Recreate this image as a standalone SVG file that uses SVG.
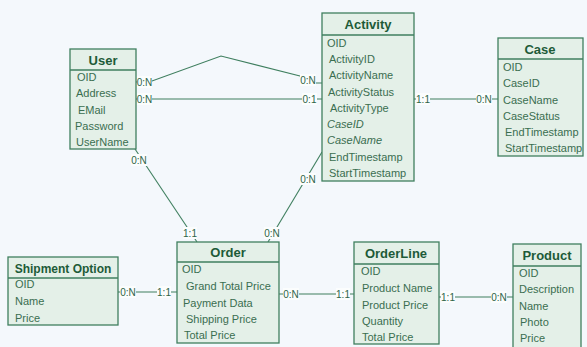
<svg xmlns="http://www.w3.org/2000/svg" width="587" height="347" viewBox="0 0 587 347">
<style>
.bg{fill:#f4f8fc}
.box{fill:#e4f0e8;stroke:#3f7f5f;stroke-width:1.3}
.sep{stroke:#3f7f5f;stroke-width:1.3}
.hdr{font-family:"Liberation Sans",Arial,sans-serif;font-size:13px;font-weight:bold;fill:#1d5b38;text-anchor:middle}
.att{font-family:"Liberation Sans",Arial,sans-serif;font-size:11px;fill:#3a6e50}
.it{font-style:italic}
.con{fill:none;stroke:#3f7f5f;stroke-width:1.1}
.lb{fill:#fbfdfd}
.lt{font-family:"Liberation Sans",Arial,sans-serif;font-size:10px;fill:#2e6448;text-anchor:middle}
</style>
<rect class="bg" x="0" y="0" width="587" height="347"/>
<g id="connectors">
<polyline class="con" points="136,82 152,81 221,56 300,76 316,83 322,83"/>
<line class="con" x1="136" y1="99" x2="322" y2="99"/>
<line class="con" x1="414" y1="99" x2="498" y2="99"/>
<line class="con" x1="135" y1="149" x2="197" y2="242"/>
<line class="con" x1="322" y1="152" x2="268" y2="242"/>
<line class="con" x1="118" y1="292" x2="177" y2="292"/>
<line class="con" x1="279" y1="294" x2="354" y2="294"/>
<line class="con" x1="439" y1="297" x2="513" y2="297"/>
<g id="labels">
<rect class="lb" x="137" y="76" width="15" height="12"/><text class="lt" x="144.5" y="86">0:N</text>
<rect class="lb" x="137" y="93" width="15" height="12"/><text class="lt" x="144.5" y="103">0:N</text>
<rect class="lb" x="300" y="74" width="16" height="12"/><text class="lt" x="308" y="84">0:N</text>
<rect class="lb" x="302" y="93" width="15" height="12"/><text class="lt" x="309.5" y="103">0:1</text>
<rect class="lb" x="416" y="93" width="14" height="12"/><text class="lt" x="423" y="103">1:1</text>
<rect class="lb" x="476" y="93" width="16" height="12"/><text class="lt" x="484" y="103">0:N</text>
<rect class="lb" x="131" y="154" width="16" height="12"/><text class="lt" x="139" y="164">0:N</text>
<rect class="lb" x="183" y="227" width="14" height="12"/><text class="lt" x="190" y="237">1:1</text>
<rect class="lb" x="300" y="173" width="16" height="12"/><text class="lt" x="308" y="183">0:N</text>
<rect class="lb" x="264" y="227" width="16" height="12"/><text class="lt" x="272" y="237">0:N</text>
<rect class="lb" x="120" y="286" width="16" height="12"/><text class="lt" x="128" y="296">0:N</text>
<rect class="lb" x="157" y="286" width="14" height="12"/><text class="lt" x="164" y="296">1:1</text>
<rect class="lb" x="283" y="288" width="16" height="12"/><text class="lt" x="291" y="298">0:N</text>
<rect class="lb" x="336" y="288" width="14" height="12"/><text class="lt" x="343" y="298">1:1</text>
<rect class="lb" x="441" y="291" width="14" height="12"/><text class="lt" x="448" y="301">1:1</text>
<rect class="lb" x="491" y="291" width="16" height="12"/><text class="lt" x="499" y="301">0:N</text>
</g>
</g>
<g id="user">
<rect class="box" x="70" y="49" width="66" height="100"/>
<line class="sep" x1="70" y1="70" x2="136" y2="70"/>
<text class="hdr" x="103" y="65">User</text>
<text class="att" x="77" y="81">OID</text>
<text class="att" x="76" y="97">Address</text>
<text class="att" x="78" y="114">EMail</text>
<text class="att" x="75" y="130">Password</text>
<text class="att" x="76" y="146">UserName</text>
</g>
<g id="activity">
<rect class="box" x="322" y="13" width="92" height="168"/>
<line class="sep" x1="322" y1="35" x2="414" y2="35"/>
<text class="hdr" x="368" y="29">Activity</text>
<text class="att" x="327" y="47">OID</text>
<text class="att" x="329" y="63">ActivityID</text>
<text class="att" x="329" y="79">ActivityName</text>
<text class="att" x="328" y="96">ActivityStatus</text>
<text class="att" x="330" y="112">ActivityType</text>
<text class="att it" x="327" y="128">CaseID</text>
<text class="att it" x="327" y="144">CaseName</text>
<text class="att" x="329" y="161">EndTimestamp</text>
<text class="att" x="329" y="177">StartTimestamp</text>
</g>
<g id="case">
<rect class="box" x="498" y="38" width="85" height="118"/>
<line class="sep" x1="498" y1="59" x2="583" y2="59"/>
<text class="hdr" x="540" y="54">Case</text>
<text class="att" x="503" y="71">OID</text>
<text class="att" x="503" y="87">CaseID</text>
<text class="att" x="503" y="104">CaseName</text>
<text class="att" x="503" y="120">CaseStatus</text>
<text class="att" x="505" y="136">EndTimestamp</text>
<text class="att" x="505" y="152">StartTimestamp</text>
</g>
<g id="shipment-option">
<rect class="box" x="8" y="257" width="110" height="68"/>
<line class="sep" x1="8" y1="278" x2="118" y2="278"/>
<text class="hdr" x="63" y="273" style="font-size:12px">Shipment Option</text>
<text class="att" x="15" y="288">OID</text>
<text class="att" x="15" y="305">Name</text>
<text class="att" x="15" y="322">Price</text>
</g>
<g id="order">
<rect class="box" x="177" y="242" width="102" height="101"/>
<line class="sep" x1="177" y1="262" x2="279" y2="262"/>
<text class="hdr" x="228" y="257">Order</text>
<text class="att" x="182" y="273">OID</text>
<text class="att" x="186" y="290">Grand Total Price</text>
<text class="att" x="183" y="307">Payment Data</text>
<text class="att" x="186" y="323">Shipping Price</text>
<text class="att" x="184" y="339">Total Price</text>
</g>
<g id="orderline">
<rect class="box" x="354" y="242" width="85" height="102"/>
<line class="sep" x1="354" y1="264" x2="439" y2="264"/>
<text class="hdr" x="396" y="258">OrderLine</text>
<text class="att" x="361" y="275">OID</text>
<text class="att" x="362" y="292">Product Name</text>
<text class="att" x="362" y="309">Product Price</text>
<text class="att" x="362" y="325">Quantity</text>
<text class="att" x="362" y="341">Total Price</text>
</g>
<g id="product">
<rect class="box" x="513" y="244" width="68" height="108"/>
<line class="sep" x1="513" y1="266" x2="581" y2="266"/>
<text class="hdr" x="547" y="260">Product</text>
<text class="att" x="519" y="277">OID</text>
<text class="att" x="519" y="293">Description</text>
<text class="att" x="519" y="310">Name</text>
<text class="att" x="520" y="326">Photo</text>
<text class="att" x="520" y="342">Price</text>
</g>
</svg>
